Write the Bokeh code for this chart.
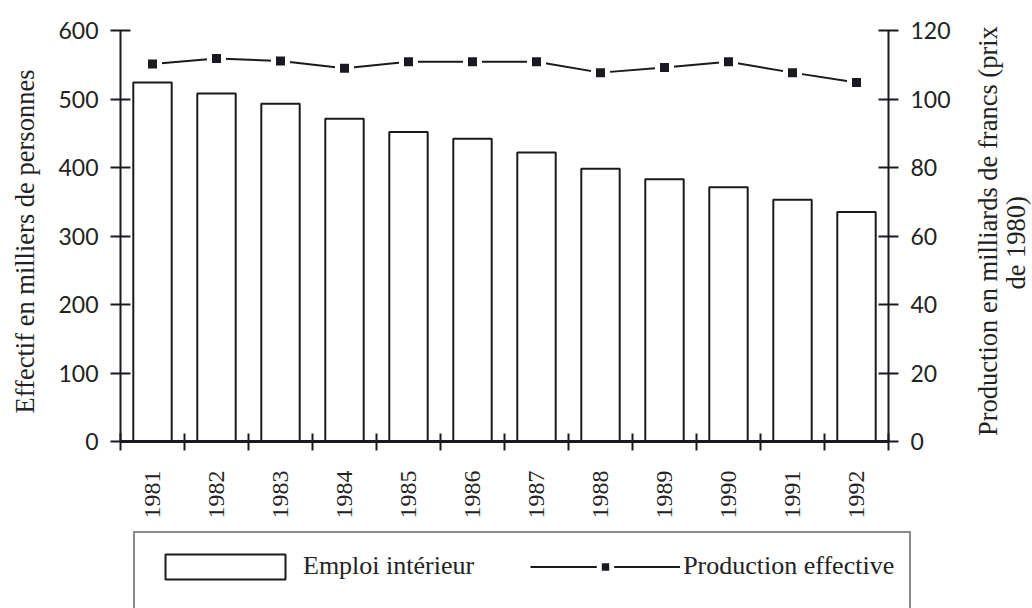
from math import pi
from bokeh.plotting import figure
from bokeh.models import (Range1d, LinearAxis, FixedTicker, Label, Legend,
                          LegendItem, ColumnDataSource)
from bokeh.embed import file_html
from bokeh.resources import INLINE

# ---- data ----
years = ["1981", "1982", "1983", "1984", "1985", "1986",
         "1987", "1988", "1989", "1990", "1991", "1992"]
emploi = [524, 508, 493, 471, 452, 442, 422, 398, 383, 371, 353, 335]
production = [110.2, 111.8, 111.1, 109.0, 110.9, 110.9,
              110.9, 107.7, 109.2, 110.9, 107.7, 104.8]
left_ticks = [0, 100, 200, 300, 400, 500, 600]
right_ticks = [0, 20, 40, 60, 80, 100, 120]
left_title = "Effectif en milliers de personnes"
right_title_1 = "Production en milliards de francs  (prix"
right_title_2 = "de 1980)"
bar_label = "Emploi intérieur"
line_label = "Production effective"

INK = "#1c1820"
TXT = "#222222"
SERIF = "Liberation Serif"
SANS = "Lato"

W, H = 1032, 608
n = len(years)
xpos = [i + 0.5 for i in range(n)]
bounds = list(range(n + 1))
src = ColumnDataSource(dict(x=xpos, emploi=emploi, production=production, year=years))

# frame covers the whole canvas; axes are pinned with fixed_location
px_x = 64.0            # pixels per category
px_y = 411.0 / 600.0   # pixels per unit (left scale)
x0_px, y0_px = 120.0, 441.0
x_range = Range1d(-x0_px / px_x, (W - x0_px) / px_x)
y_range = Range1d((y0_px - H) / px_y, y0_px / px_y)
ratio = left_ticks[-1] / right_ticks[-1]

p = figure(width=W, height=H, output_backend="svg", toolbar_location=None,
           x_range=x_range, y_range=y_range, min_border=0,
           x_axis_location=None, y_axis_location=None)
p.outline_line_color = None
p.grid.visible = False
p.background_fill_color = "white"
p.border_fill_color = "white"
p.extra_y_ranges = {"prod": Range1d(y_range.start / ratio, y_range.end / ratio)}

# x axis
xa = LinearAxis(fixed_location=0, bounds=(0, n),
                ticker=FixedTicker(ticks=xpos, minor_ticks=bounds))
xa.major_label_overrides = {xv: y for xv, y in zip(xpos, years)}
xa.major_label_orientation = pi / 2
xa.major_tick_in = 0
xa.major_tick_out = 0
xa.minor_tick_in = 8
xa.minor_tick_out = 9
xa.minor_tick_line_width = 2
xa.minor_tick_line_color = INK
xa.axis_line_width = 3
xa.axis_line_color = INK
xa.major_label_standoff = 20
xa.major_label_text_font = SERIF
xa.major_label_text_font_size = "24px"
xa.major_label_text_color = TXT
p.add_layout(xa, "below")

# y axes
ya = LinearAxis(fixed_location=0, bounds=(0, left_ticks[-1]),
                ticker=FixedTicker(ticks=left_ticks))
yr = LinearAxis(fixed_location=n, bounds=(0, right_ticks[-1]), y_range_name="prod",
                ticker=FixedTicker(ticks=right_ticks))
for ax in (ya, yr):
    ax.major_tick_in = 10
    ax.major_tick_out = 10
    ax.minor_tick_in = 0
    ax.minor_tick_out = 0
    ax.major_tick_line_width = 2
    ax.major_tick_line_color = INK
    ax.axis_line_width = 2
    ax.axis_line_color = INK
    ax.major_label_standoff = 12
    ax.major_label_text_font = SANS
    ax.major_label_text_font_size = "23px"
    ax.major_label_text_color = TXT
p.add_layout(ya, "left")
p.add_layout(yr, "right")

# marks
bars = p.vbar(x="x", top="emploi", bottom=0, width=0.6, source=src,
              fill_color="white", line_color=INK, line_width=2)
ln = p.line(x="x", y="production", y_range_name="prod", source=src,
            line_color=INK, line_width=2)
sc = p.scatter(x="x", y="production", y_range_name="prod", source=src,
               marker="square", size=14, fill_color=INK,
               line_color="white", line_width=5)

# axis titles
def title(x, y, text, size="26.5px"):
    p.add_layout(Label(x=x, y=y, text=text, angle=pi / 2,
                       text_align="center", text_baseline="middle",
                       text_font=SERIF, text_font_size=size, text_color=TXT))

title(-1.5, 292, left_title)
title(13.56, 312, right_title_1)
title(13.99, 290, right_title_2)

legend = Legend(items=[LegendItem(label=bar_label, renderers=[bars]),
                       LegendItem(label=line_label, renderers=[ln, sc])],
                orientation="horizontal", location=(133, -11),
                glyph_width=150, glyph_height=31, label_height=36,
                label_standoff=3, spacing=56, padding=15, margin=0,
                title=" ", title_location="below", title_standoff=6,
                title_text_font_size="11px",
                label_text_font=SERIF, label_text_font_size="26px",
                label_text_color=TXT,
                border_line_color=INK, border_line_width=2,
                background_fill_color="white", background_fill_alpha=1)
p.add_layout(legend)

open("out.html", "w").write(file_html(p, INLINE))
